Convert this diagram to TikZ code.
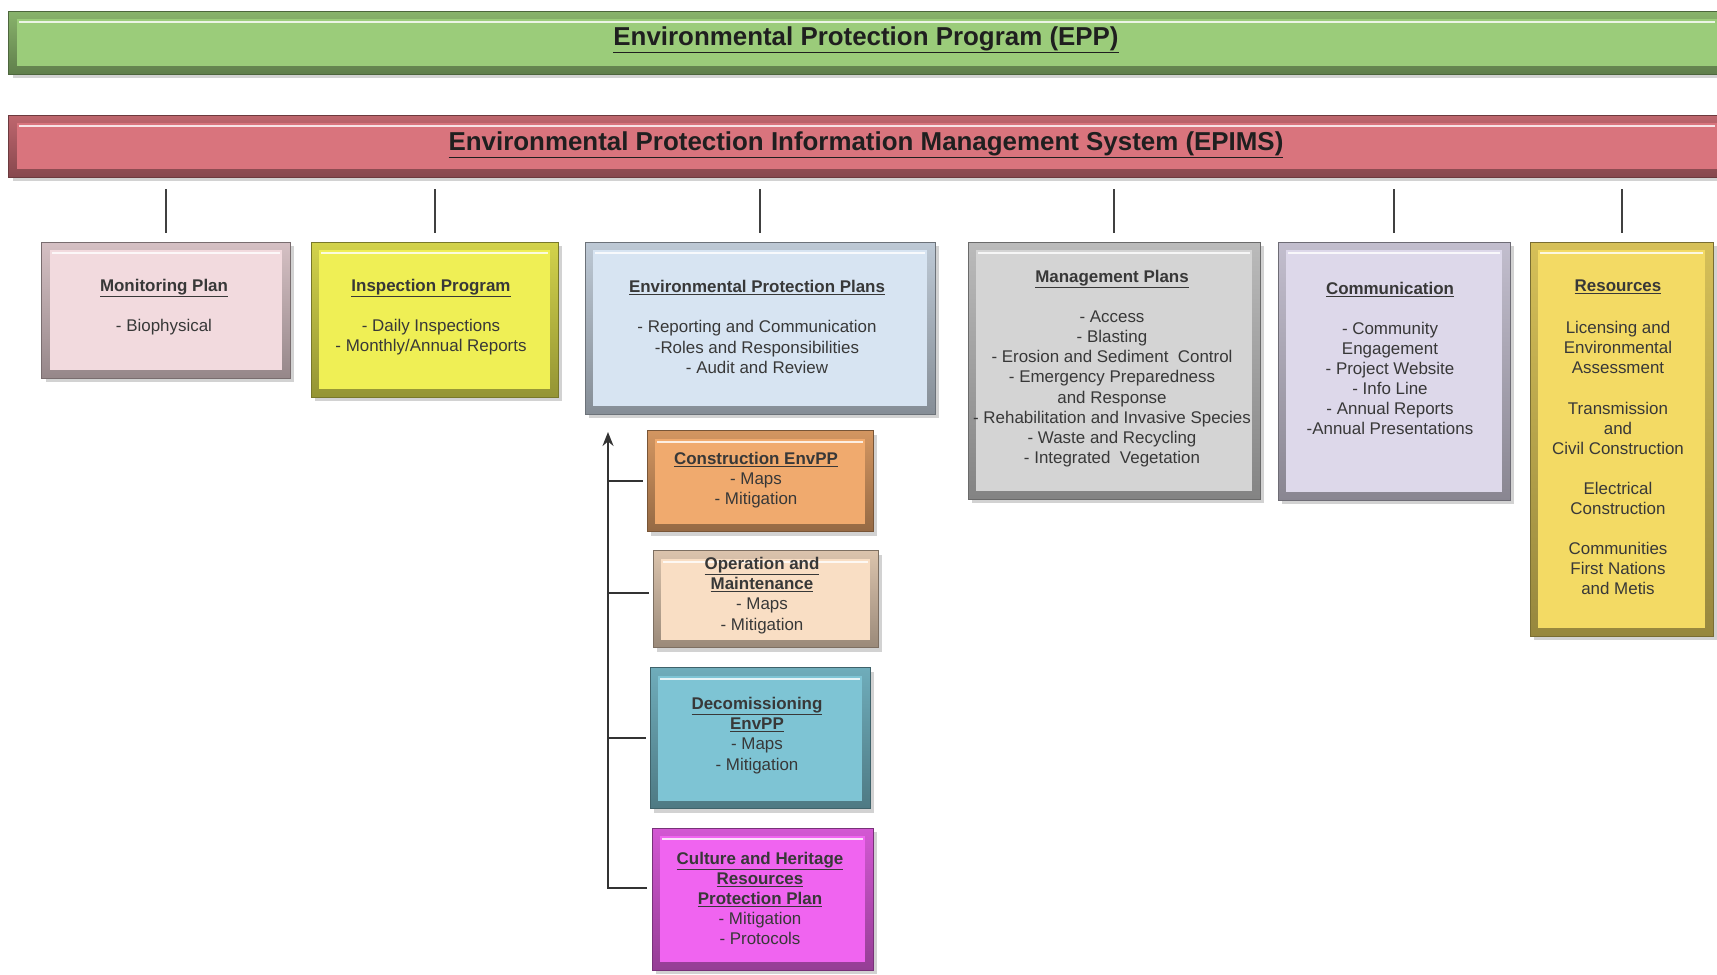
\documentclass[tikz,border=0pt]{standalone}
\usepackage{fontspec}
\setmainfont{Liberation Sans}
\usetikzlibrary{shadows,arrows.meta,calc}
\definecolor{cEPP}{HTML}{9BCC7A}
\definecolor{cEPIMS}{HTML}{D9747D}
\definecolor{cMon}{HTML}{F2DADE}
\definecolor{cInsp}{HTML}{EFEF55}
\definecolor{cPlans}{HTML}{D7E4F2}
\definecolor{cMgmt}{HTML}{D4D4D4}
\definecolor{cComm}{HTML}{DDD8EA}
\definecolor{cRes}{HTML}{F3DA64}
\definecolor{cCons}{HTML}{F0AA6E}
\definecolor{cOper}{HTML}{F9DEC4}
\definecolor{cDecom}{HTML}{7EC4D4}
\definecolor{cCult}{HTML}{F064F0}
\begin{document}
\begin{tikzpicture}[x=1bp,y=-1bp,
  box/.style={rectangle, inner sep=0pt, outer sep=0pt, top color=#1!88!black, bottom color=#1!62!black, draw=#1!50!black, line width=1bp,
    drop shadow={shadow xshift=4bp, shadow yshift=-4bp, opacity=0.35},
    path picture={
      \fill[#1] ([xshift=8bp,yshift=-8bp]path picture bounding box.north west) rectangle ([xshift=-8bp,yshift=8bp]path picture bounding box.south east);
      \draw[white, opacity=0.8, line width=2bp] ([xshift=10bp,yshift=-11bp]path picture bounding box.north west) -- ([xshift=-10bp,yshift=-11bp]path picture bounding box.north east);}},
  txt/.style={align=center, inner sep=0pt, text=black!78, font=\fontsize{17}{20.2}\selectfont},
  ttl/.style={align=center, inner sep=0pt, text=black!88, font=\fontsize{26}{30}\selectfont\bfseries},
  tick/.style={draw=black!75, line width=2bp},
  conn/.style={draw=black!80, line width=2bp},
]
\useasboundingbox[fill=white] (0,0) rectangle (1717,974);

% bars
\node[box=cEPP, minimum width=1716bp, minimum height=63bp] (epp) at (867,42.5) {};
\node[ttl] (eppT) at (866,40) {\underline{Environmental Protection Program (EPP)}};
\node[box=cEPIMS, minimum width=1716bp, minimum height=62bp] (epims) at (867,146) {};
\node[ttl] (epimsT) at (866,145) {\underline{Environmental Protection Information Management System (EPIMS)}};

% top row boxes
\node[box=cMon, minimum width=248bp, minimum height=136bp] (mon) at (166,310) {};
\node[txt] (monT) at (164,307) {\textbf{\underline{Monitoring Plan}}\\[20bp] - Biophysical};

\node[box=cInsp, minimum width=247bp, minimum height=155bp] (insp) at (434.5,319.5) {};
\node[txt] (inspT) at (431,317) {\textbf{\underline{Inspection Program}}\\[20bp] - Daily Inspections\\ - Monthly/Annual Reports};

\node[box=cPlans, minimum width=350bp, minimum height=172bp] (plans) at (760,328) {};
\node[txt] (plansT) at (757,327) {\textbf{\underline{Environmental Protection Plans}}\\[20bp] - Reporting and Communication\\ -Roles and Responsibilities\\ - Audit and Review};

\node[box=cMgmt, minimum width=292bp, minimum height=257bp] (mgmt) at (1114,370.5) {};
\node[txt] (mgmtT) at (1112,368.5) {\textbf{\underline{Management Plans}}\\[20bp] - Access\\ - Blasting\\ - Erosion and Sediment\ \ Control\\ - Emergency Preparedness\\ and Response\\ - Rehabilitation and Invasive Species\\ - Waste and Recycling\\ - Integrated\ \ Vegetation};

\node[box=cComm, minimum width=232bp, minimum height=258bp] (comm) at (1394,371) {};
\node[txt] (commT) at (1390,358.5) {\textbf{\underline{Communication}}\\[20bp] - Community\\ Engagement\\ - Project Website\\ - Info Line\\ - Annual Reports\\ -Annual Presentations};

\node[box=cRes, minimum width=183bp, minimum height=394bp] (res) at (1621.5,439) {};
\node[txt] (resT) at (1618,437.5) {\textbf{\underline{Resources}}\\[22bp] Licensing and\\ Environmental\\ Assessment\\[20bp] Transmission\\ and\\ Civil Construction\\[20bp] Electrical\\ Construction\\[20bp] Communities\\ First Nations\\ and Metis};

% sub boxes
\node[box=cCons, minimum width=226bp, minimum height=101bp] (cons) at (760,481) {};
\node[txt] (consT) at (756,480) {\textbf{\underline{Construction EnvPP}}\\ - Maps\\ - Mitigation};

\node[box=cOper, minimum width=225bp, minimum height=97bp] (oper) at (765.5,599) {};
\node[txt] (operT) at (762,595.5) {\textbf{\underline{Operation and}}\\ \textbf{\underline{Maintenance}}\\ - Maps\\ - Mitigation};

\node[box=cDecom, minimum width=220bp, minimum height=141bp] (decom) at (760,738) {};
\node[txt] (decomT) at (757,735.5) {\textbf{\underline{Decomissioning}}\\ \textbf{\underline{EnvPP}}\\ - Maps\\ - Mitigation};

\node[box=cCult, minimum width=221bp, minimum height=142bp] (cult) at (762.5,899) {};
\node[txt] (cultT) at (760,898.5) {\textbf{\underline{Culture and Heritage}}\\ \textbf{\underline{Resources}}\\ \textbf{\underline{Protection Plan}}\\ - Mitigation\\ - Protocols};

% ticks from EPIMS
\foreach \b in {mon,insp,plans,mgmt,comm,res}
  \draw[tick, shorten <=12bp, shorten >=9bp] (\b.north |- epims.south) -- (\b.north);

% spine
\coordinate (spinetop) at (608,432);
\draw[conn, -{Stealth[length=14bp,width=11bp]}, shorten <=5bp] ([yshift=11bp]cult.west) -| (spinetop);
\draw[conn, shorten >=4bp] (cons.west -| spinetop) -- (cons.west);
\draw[conn, shorten >=4bp] ([yshift=6bp]oper.west -| spinetop) -- ([yshift=6bp]oper.west);
\draw[conn, shorten >=4bp] (decom.west -| spinetop) -- (decom.west);
\end{tikzpicture}
\end{document}
